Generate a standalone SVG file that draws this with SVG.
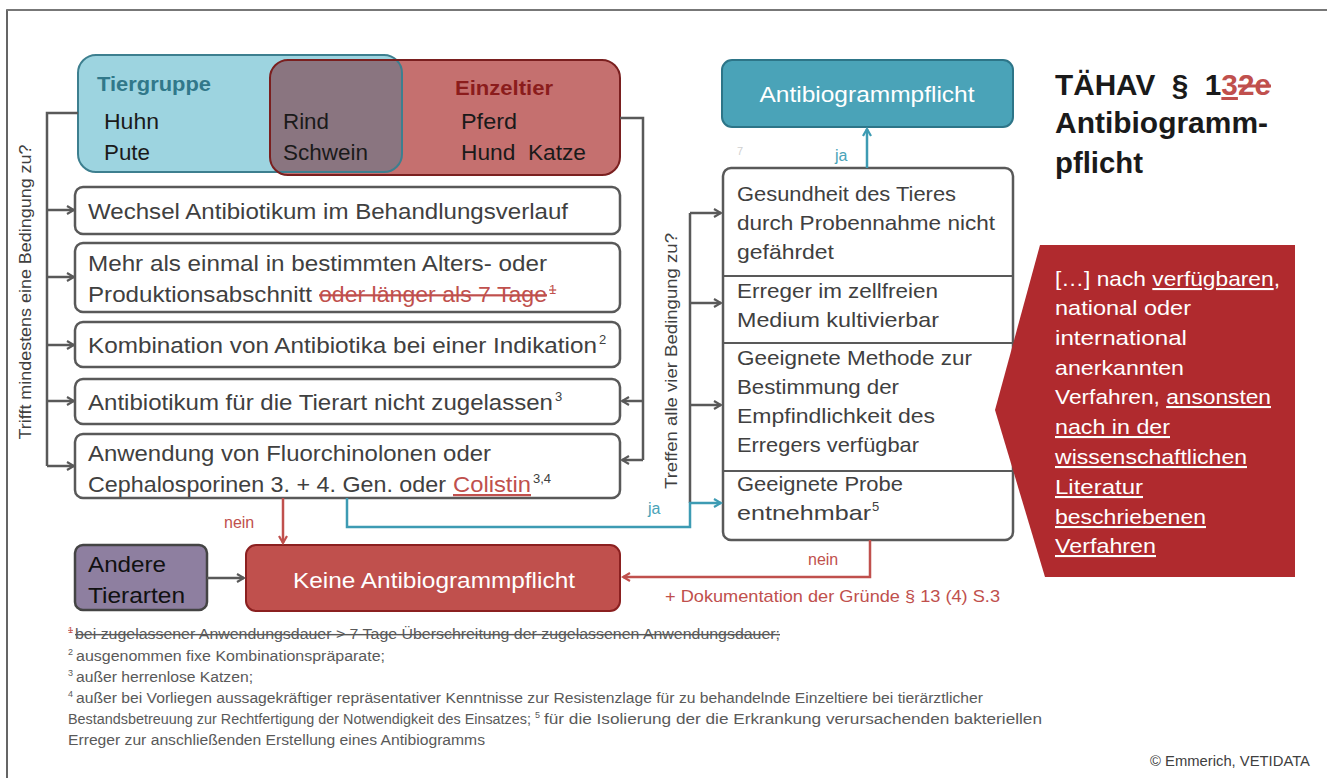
<svg xmlns="http://www.w3.org/2000/svg" width="1327" height="778" viewBox="0 0 1327 778">
<style>
text{font-family:"Liberation Sans",Arial,sans-serif;fill:#404040}
.b{font-size:22px}
.r{font-size:21px}
.w{fill:#fff}
.red{fill:#c0504d}
.blue{fill:#4aa3b8}
.fn{font-size:14px;fill:#595959}
.sup{font-size:13px}
.box{fill:#fff;stroke:#595959;stroke-width:2.5}
.g{fill:none;stroke:#595959;stroke-width:2.5}
.bl{fill:none;stroke:#3d9bb3;stroke-width:2.5}
.rl{fill:none;stroke:#c0504d;stroke-width:2.5}
.ul{text-decoration:underline}
.st{text-decoration:line-through}
</style>
<defs>
<marker id="ag" markerWidth="10" markerHeight="10" refX="8" refY="5" orient="auto" markerUnits="userSpaceOnUse"><path d="M1,1 L8,5 L1,9" fill="none" stroke="#595959" stroke-width="2.2"/></marker>
<marker id="ab" markerWidth="10" markerHeight="10" refX="8" refY="5" orient="auto" markerUnits="userSpaceOnUse"><path d="M1,1 L8,5 L1,9" fill="none" stroke="#3d9bb3" stroke-width="2.2"/></marker>
<marker id="ar" markerWidth="10" markerHeight="10" refX="8" refY="5" orient="auto" markerUnits="userSpaceOnUse"><path d="M1,1 L8,5 L1,9" fill="none" stroke="#c0504d" stroke-width="2.2"/></marker>
<clipPath id="redclip"><rect x="270" y="60" width="350" height="115" rx="18"/></clipPath>
</defs>
<rect width="1327" height="778" fill="#fff"/>
<path d="M7,778 V10 H1327" fill="none" stroke="#333" stroke-width="1.5"/>
<path d="M7,10 H1327" fill="none" stroke="#777" stroke-width="2"/>

<g id="tiergruppen">
<rect x="78" y="55" width="324" height="117" rx="18" fill="#9dd4e0"/>
<rect x="270" y="60" width="350" height="115" rx="18" fill="#c5706f"/>
<rect x="78" y="55" width="324" height="117" rx="18" fill="#8a7580" clip-path="url(#redclip)"/>
<rect x="78" y="55" width="324" height="117" rx="18" fill="none" stroke="#3d7f8f" stroke-width="2"/>
<rect x="270" y="60" width="350" height="115" rx="18" fill="none" stroke="#7a1f1f" stroke-width="2"/>
<text x="97" y="91" font-size="20" font-weight="bold" style="fill:#31788a" textLength="114" lengthAdjust="spacingAndGlyphs">Tiergruppe</text>
<text x="455" y="95" font-size="20" font-weight="bold" style="fill:#8b1c1c" textLength="98" lengthAdjust="spacingAndGlyphs">Einzeltier</text>
<text x="104" y="129" class="b" style="fill:#1a1a1a" textLength="55" lengthAdjust="spacingAndGlyphs">Huhn</text>
<text x="104" y="160" class="b" style="fill:#1a1a1a" textLength="46" lengthAdjust="spacingAndGlyphs">Pute</text>
<text x="283" y="129" class="b" style="fill:#1a1a1a" textLength="46" lengthAdjust="spacingAndGlyphs">Rind</text>
<text x="283" y="160" class="b" style="fill:#1a1a1a" textLength="85" lengthAdjust="spacingAndGlyphs">Schwein</text>
<text x="461" y="129" class="b" style="fill:#1a1a1a" textLength="56" lengthAdjust="spacingAndGlyphs">Pferd</text>
<text x="461" y="160" class="b" style="fill:#1a1a1a" textLength="125" lengthAdjust="spacingAndGlyphs" xml:space="preserve">Hund  Katze</text>
</g>

<g id="bed1">
<rect class="box" x="75" y="187" width="545" height="47" rx="8"/>
<text x="88" y="219" class="b" textLength="480" lengthAdjust="spacingAndGlyphs">Wechsel Antibiotikum im Behandlungsverlauf</text>
</g>
<g id="bed2">
<rect class="box" x="75" y="243" width="545" height="69" rx="8"/>
<text x="88" y="271" class="b" textLength="459" lengthAdjust="spacingAndGlyphs">Mehr als einmal in bestimmten Alters- oder</text>
<text x="88" y="302" class="b" textLength="224" lengthAdjust="spacingAndGlyphs">Produktionsabschnitt</text>
<text x="319" y="302" class="b red st" textLength="228" lengthAdjust="spacingAndGlyphs">oder länger als 7 Tage</text>
<text x="549" y="294" class="sup red st">1</text>
</g>
<g id="bed3">
<rect class="box" x="75" y="322" width="545" height="45" rx="8"/>
<text x="88" y="353" class="b" textLength="509" lengthAdjust="spacingAndGlyphs">Kombination von Antibiotika bei einer Indikation</text>
<text x="599" y="344" class="sup">2</text>
</g>
<g id="bed4">
<rect class="box" x="75" y="379" width="545" height="45" rx="8"/>
<text x="88" y="410" class="b" textLength="465" lengthAdjust="spacingAndGlyphs">Antibiotikum für die Tierart nicht zugelassen</text>
<text x="555" y="401" class="sup">3</text>
</g>
<g id="bed5">
<rect class="box" x="75" y="434" width="545" height="64" rx="8"/>
<text x="88" y="461" class="b" textLength="403" lengthAdjust="spacingAndGlyphs">Anwendung von Fluorchinolonen oder</text>
<text x="88" y="492" class="b" textLength="358" lengthAdjust="spacingAndGlyphs">Cephalosporinen 3. + 4. Gen. oder</text>
<text x="453" y="492" class="b red ul" textLength="78" lengthAdjust="spacingAndGlyphs">Colistin</text>
<text x="533" y="483" class="sup">3,4</text>
</g>

<g id="antibiogrammpflicht">
<rect x="722" y="60" width="291" height="67" rx="10" fill="#4aa3b8" stroke="#2d7588" stroke-width="2"/>
<text x="867" y="102" class="b w" text-anchor="middle" textLength="215" lengthAdjust="spacingAndGlyphs">Antibiogrammpflicht</text>
</g>
<text x="737" y="155" font-size="11" style="fill:#d0d0d0">7</text>

<g id="titel">
<text x="1055" y="95" font-size="30" font-weight="bold" style="fill:#1a1a1a" xml:space="preserve" textLength="216" lengthAdjust="spacingAndGlyphs">TÄHAV  §  1<tspan class="ul" style="fill:#c0504d">3</tspan><tspan class="st" style="fill:#c0504d">2e</tspan></text>
<text x="1055" y="133" font-size="30" font-weight="bold" style="fill:#1a1a1a" textLength="213" lengthAdjust="spacingAndGlyphs">Antibiogramm-</text>
<text x="1055" y="173" font-size="30" font-weight="bold" style="fill:#1a1a1a" textLength="88" lengthAdjust="spacingAndGlyphs">pflicht</text>
</g>

<g id="bedingungen4">
<rect class="box" x="723" y="168" width="290" height="372" rx="8"/>
<path d="M723,276 H1013 M723,343 H1013 M723,471 H1013" stroke="#595959" stroke-width="2"/>
<text x="737" y="201" class="r" textLength="219" lengthAdjust="spacingAndGlyphs">Gesundheit des Tieres</text>
<text x="737" y="230" class="r" textLength="258" lengthAdjust="spacingAndGlyphs">durch Probennahme nicht</text>
<text x="737" y="259" class="r" textLength="97" lengthAdjust="spacingAndGlyphs">gefährdet</text>
<text x="737" y="298" class="r" textLength="201" lengthAdjust="spacingAndGlyphs">Erreger im zellfreien</text>
<text x="737" y="327" class="r" textLength="202" lengthAdjust="spacingAndGlyphs">Medium kultivierbar</text>
<text x="737" y="365" class="r" textLength="235" lengthAdjust="spacingAndGlyphs">Geeignete Methode zur</text>
<text x="737" y="394" class="r" textLength="162" lengthAdjust="spacingAndGlyphs">Bestimmung der</text>
<text x="737" y="423" class="r" textLength="198" lengthAdjust="spacingAndGlyphs">Empfindlichkeit des</text>
<text x="737" y="452" class="r" textLength="182" lengthAdjust="spacingAndGlyphs">Erregers verfügbar</text>
<text x="737" y="491" class="r" textLength="166" lengthAdjust="spacingAndGlyphs">Geeignete Probe</text>
<text x="737" y="520" class="r" textLength="134" lengthAdjust="spacingAndGlyphs">entnehmbar</text>
<text x="872" y="511" class="sup">5</text>
</g>

<g id="hinweis">
<polygon points="1040,245 1295,245 1295,577 1045,577 995,410" fill="#b02a2e"/>
<text x="1055" y="286" class="r w" xml:space="preserve" textLength="225" lengthAdjust="spacingAndGlyphs"><tspan>[…] nach </tspan><tspan class="ul">verfügbaren</tspan><tspan>,</tspan></text>
<text x="1055" y="315" class="r w" textLength="136" lengthAdjust="spacingAndGlyphs">national oder</text>
<text x="1055" y="345" class="r w" textLength="132" lengthAdjust="spacingAndGlyphs">international</text>
<text x="1055" y="375" class="r w" textLength="129" lengthAdjust="spacingAndGlyphs">anerkannten</text>
<text x="1055" y="404" class="r w" xml:space="preserve" textLength="216" lengthAdjust="spacingAndGlyphs"><tspan>Verfahren, </tspan><tspan class="ul">ansonsten</tspan></text>
<text x="1055" y="434" class="r w ul" textLength="115" lengthAdjust="spacingAndGlyphs">nach in der</text>
<text x="1055" y="464" class="r w ul" textLength="192" lengthAdjust="spacingAndGlyphs">wissenschaftlichen</text>
<text x="1055" y="494" class="r w ul" textLength="88" lengthAdjust="spacingAndGlyphs">Literatur</text>
<text x="1055" y="524" class="r w ul" textLength="151" lengthAdjust="spacingAndGlyphs">beschriebenen</text>
<text x="1055" y="553" class="r w ul" textLength="101" lengthAdjust="spacingAndGlyphs">Verfahren</text>
</g>

<g id="andere">
<rect x="75" y="545" width="132" height="65" rx="8" fill="#8e7fa0" stroke="#444" stroke-width="2.5"/>
<text x="88" y="572" class="b" style="fill:#111" textLength="78" lengthAdjust="spacingAndGlyphs">Andere</text>
<text x="88" y="603" class="b" style="fill:#111" textLength="97" lengthAdjust="spacingAndGlyphs">Tierarten</text>
</g>
<g id="keine">
<rect x="246" y="545" width="374" height="66" rx="10" fill="#c0504d" stroke="#8b2020" stroke-width="2"/>
<text x="434" y="588" class="b w" text-anchor="middle" textLength="282" lengthAdjust="spacingAndGlyphs">Keine Antibiogrammpflicht</text>
</g>

<g id="connectors">
<path class="g" d="M78,113 H47 V466"/>
<path class="g" d="M47,210 H74" marker-end="url(#ag)"/>
<path class="g" d="M47,277 H74" marker-end="url(#ag)"/>
<path class="g" d="M47,345 H74" marker-end="url(#ag)"/>
<path class="g" d="M47,401 H74" marker-end="url(#ag)"/>
<path class="g" d="M47,466 H74" marker-end="url(#ag)"/>
<path class="g" d="M620,118 H643 V460"/>
<path class="g" d="M643,401 H622" marker-end="url(#ag)"/>
<path class="g" d="M643,460 H622" marker-end="url(#ag)"/>
<path class="g" d="M690,213 V503"/>
<path class="g" d="M690,213 H721" marker-end="url(#ag)"/>
<path class="g" d="M690,303 H721" marker-end="url(#ag)"/>
<path class="g" d="M690,405 H721" marker-end="url(#ag)"/>
<path class="bl" d="M347,498 V527 H690 V503 H721" marker-end="url(#ab)"/>
<path class="bl" d="M867,168 V129" marker-end="url(#ab)"/>
<path class="rl" d="M283,498 V543" marker-end="url(#ar)"/>
<path class="rl" d="M870,540 V577 H623" marker-end="url(#ar)"/>
<path class="g" d="M207,578 H244" marker-end="url(#ag)"/>
<text x="224" y="528" font-size="16" class="red">nein</text>
<text x="808" y="565" font-size="16" class="red">nein</text>
<text x="648" y="514" font-size="16" class="blue">ja</text>
<text x="835" y="161" font-size="16" class="blue">ja</text>
<text x="665" y="602" font-size="17" class="red" textLength="335" lengthAdjust="spacingAndGlyphs">+ Dokumentation der Gründe § 13 (4) S.3</text>
<text transform="translate(31,292) rotate(-90)" font-size="17" text-anchor="middle" textLength="295" lengthAdjust="spacingAndGlyphs">Trifft mindestens eine Bedingung zu?</text>
<text transform="translate(677,361) rotate(-90)" font-size="17" text-anchor="middle" textLength="256" lengthAdjust="spacingAndGlyphs">Treffen alle vier Bedingung zu?</text>
</g>

<g id="fussnoten">
<text x="68" y="633" font-size="9" class="red st">1</text>
<text x="75" y="639" class="fn red st" textLength="705" lengthAdjust="spacingAndGlyphs">bei zugelassener Anwendungsdauer &gt; 7 Tage Überschreitung der zugelassenen Anwendungsdauer;</text>
<text x="68" y="655" font-size="9" style="fill:#595959">2</text>
<text x="76" y="661" class="fn" textLength="309" lengthAdjust="spacingAndGlyphs">ausgenommen fixe Kombinationspräparate;</text>
<text x="68" y="676" font-size="9" style="fill:#595959">3</text>
<text x="76" y="682" class="fn" textLength="177" lengthAdjust="spacingAndGlyphs">außer herrenlose Katzen;</text>
<text x="68" y="697" font-size="9" style="fill:#595959">4</text>
<text x="76" y="703" class="fn" textLength="907" lengthAdjust="spacingAndGlyphs">außer bei Vorliegen aussagekräftiger repräsentativer Kenntnisse zur Resistenzlage für zu behandelnde Einzeltiere bei tierärztlicher</text>
<text x="68" y="724" class="fn" textLength="463" lengthAdjust="spacingAndGlyphs">Bestandsbetreuung zur Rechtfertigung der Notwendigkeit des Einsatzes;</text>
<text x="535" y="718" font-size="9" style="fill:#595959">5</text>
<text x="544" y="724" class="fn" textLength="498" lengthAdjust="spacingAndGlyphs">für die Isolierung der die Erkrankung verursachenden bakteriellen</text>
<text x="68" y="745" class="fn" textLength="417" lengthAdjust="spacingAndGlyphs">Erreger zur anschließenden Erstellung eines Antibiogramms</text>
<text x="1150" y="766" class="fn" style="fill:#404040" textLength="160" lengthAdjust="spacingAndGlyphs">© Emmerich, VETIDATA</text>
</g>
</svg>
